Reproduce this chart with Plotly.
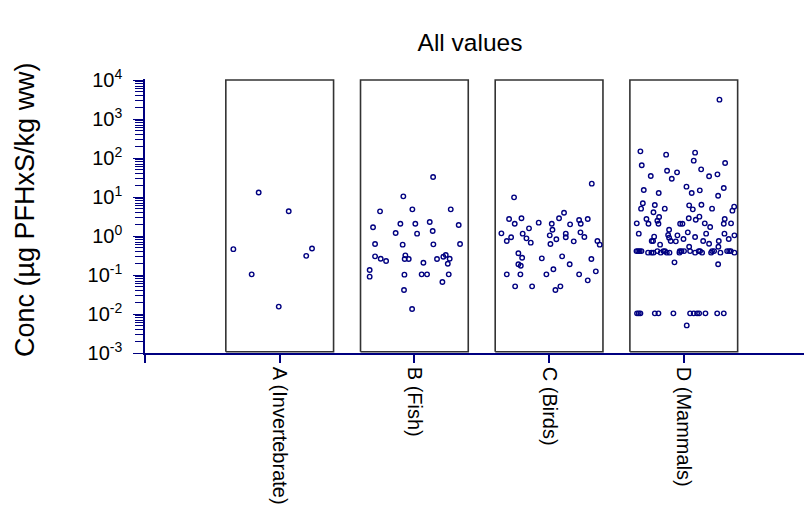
import plotly.graph_objects as go

# ---------------- data ----------------
categories = ["A (Invertebrate)", "B (Fish)", "C (Birds)", "D (Mammals)"]

y_tick_vals = [1e-3, 1e-2, 1e-1, 1e0, 1e1, 1e2, 1e3, 1e4]
y_tick_text = ["10<sup>-3</sup>", "10<sup>-2</sup>", "10<sup>-1</sup>", "10<sup>0</sup>",
               "10<sup>1</sup>", "10<sup>2</sup>", "10<sup>3</sup>", "10<sup>4</sup>"]

a_values = [13.0, 4.3, 0.46, 0.48, 0.31, 0.104, 0.0155]
a_jitter = [-0.156, 0.067, -0.344, 0.24, 0.197, -0.208, -0.007]

b_values = [32.6, 10.4, 4.29, 4.83, 4.83, 1.67, 2.07, 2.07, 2.29, 1.91,
            1.19, 1.15, 1.34, 0.624, 0.60, 0.611, 0.624, 0.301, 0.262, 0.229,
            0.319, 0.257, 0.257, 0.207, 0.257, 0.295, 0.326, 0.262, 0.195, 0.134,
            0.0906, 0.102, 0.104, 0.104, 0.104, 0.0662, 0.0412, 0.0134]
b_jitter = [0.139, -0.082, -0.255, -0.015, 0.27, -0.307, -0.104, 0.007, 0.114, 0.329,
            -0.139, 0.02, 0.136, -0.292, -0.087, 0.141, 0.339, -0.292, -0.25, -0.21,
            -0.067, -0.072, -0.042, 0.067, 0.168, 0.215, 0.233, 0.262, 0.248, -0.332,
            -0.332, -0.074, 0.054, 0.094, 0.255, 0.208, -0.077, -0.017]

c_values = [22.0, 9.79, 3.96, 2.73, 2.84, 2.07, 2.20, 2.07, 2.84, 2.57,
            2.07, 2.73, 1.99, 1.57, 1.45, 1.17, 1.15, 1.04, 1.15, 0.925,
            1.24, 0.942, 0.925, 0.745, 0.871, 0.675, 0.822, 0.624, 0.73, 0.745,
            0.60, 0.36, 0.278, 0.267, 0.301, 0.257, 0.188, 0.173, 0.188, 0.14,
            0.124, 0.104, 0.104, 0.104, 0.104, 0.073, 0.0512, 0.0512, 0.0412, 0.0512]
c_jitter = [0.317, -0.26, 0.111, -0.297, -0.205, -0.255, -0.077, 0.02, 0.074, 0.223,
            0.235, 0.287, 0.156, -0.149, 0.025, -0.354, -0.196, 0.005, 0.124, 0.124,
            0.233, 0.262, -0.282, -0.314, -0.168, -0.136, 0.054, 0.01, 0.183, 0.359,
            0.376, -0.228, -0.2, -0.054, 0.097, 0.314, -0.228, -0.21, 0.153, 0.032,
            0.347, -0.314, -0.213, -0.02, 0.223, 0.287, -0.252, -0.126, 0.047, 0.084]

d_values = [3130, 148, 137, 122, 85.5, 64.9, 74.5, 47.3, 42.9, 51.2,
            29.5, 34.5, 33.9, 38.1, 18.4, 17.0, 15.1, 12.7, 12.7, 14.8,
            10.8, 6.89, 6.24, 6.11, 6.35, 5.02, 5.02, 4.83, 5.02, 4.47,
            5.65, 4.05, 2.73, 3.07, 2.47, 2.84, 3.13, 2.62, 2.73, 2.11,
            2.07, 2.07, 2.07, 2.07, 2.11, 2.07, 2.11, 1.70, 1.45, 1.15,
            1.06, 1.04, 1.24, 1.15, 1.15, 1.04, 0.962, 0.906, 0.838, 0.942,
            0.745, 0.745, 0.745, 0.73, 0.745, 0.745, 0.838, 0.60, 0.635, 0.532,
            0.532,
            0.41, 0.41, 0.41, 0.41, 0.41, 0.41, 0.41, 0.41, 0.41, 0.41,
            0.41, 0.41, 0.41, 0.41, 0.41, 0.41, 0.41, 0.41,
            0.374, 0.374, 0.374, 0.374, 0.374, 0.374, 0.374, 0.374, 0.374, 0.374,
            0.374, 0.374,
            0.211, 0.188,
            0.0104, 0.0104, 0.0104, 0.0104, 0.0104, 0.0104, 0.0104, 0.0104, 0.0104, 0.0104,
            0.0104, 0.0104, 0.0104,
            0.0051]
d_jitter = [0.265, -0.322, 0.084, -0.131, 0.074, -0.312, 0.307, -0.124, -0.05, 0.129,
            -0.089, -0.245, 0.188, 0.25, 0.02, 0.297, -0.297, -0.186, 0.059, 0.119,
            0.255, -0.304, -0.215, 0.04, 0.131, -0.317, -0.141, 0.067, 0.21, 0.361,
            0.374, -0.225, -0.277, -0.183, -0.196, 0.037, 0.116, 0.089, 0.304, -0.349,
            -0.262, -0.188, -0.027, -0.01, 0.156, 0.297, 0.351, 0.196, -0.109, -0.334,
            -0.116, -0.047, 0.03, 0.166, 0.302, 0.376, -0.22, -0.109, -0.002, 0.084,
            -0.238, -0.228, -0.097, -0.059, 0.144, 0.26, 0.334, -0.176, 0.188, 0.04,
            0.257,
            -0.351, -0.339, -0.327, -0.314, -0.196, -0.151, -0.139, -0.03, -0.017, 0.002,
            0.047, 0.111, 0.121, 0.21, 0.225, 0.322, 0.337, 0.349,
            -0.265, -0.24, -0.225, -0.171, -0.126, -0.106, -0.032, 0.084, 0.136, 0.203,
            0.272, 0.376,
            -0.069, 0.255,
            -0.347, -0.334, -0.322, -0.215, -0.188, -0.077, 0.047, 0.074, 0.099, 0.114,
            0.161, 0.248, 0.297,
            0.022]

groups = [(a_values, a_jitter), (b_values, b_jitter), (c_values, c_jitter), (d_values, d_jitter)]

box_top = 1e4
box_bottom = 10 ** -2.967
box_half = 0.4

NAVY = "#000080"
BOXC = "#333333"
FONT = "Liberation Sans, Arial, sans-serif"

# the page body has an 8px margin, so the figure is sized/positioned to compensate
W, H = 804, 501

fig = go.Figure()

for i, (vals, jit) in enumerate(groups):
    fig.add_trace(go.Scatter(
        x=[i - box_half, i + box_half, i + box_half, i - box_half, i - box_half],
        y=[box_bottom, box_bottom, box_top, box_top, box_bottom],
        mode="lines", line=dict(color=BOXC, width=1.6),
        hoverinfo="skip", showlegend=False))

for i, (vals, jit) in enumerate(groups):
    fig.add_trace(go.Scatter(
        x=[i + j for j in jit], y=vals, mode="markers",
        marker=dict(symbol="circle-open", size=4.5, color=NAVY, line=dict(width=1.4, color=NAVY)),
        cliponaxis=False, showlegend=False))

fig.update_layout(
    width=W, height=H,
    margin=dict(l=137, r=0, t=71, b=156),
    paper_bgcolor="white", plot_bgcolor="white",
    font=dict(family=FONT, color="black"),
    title=dict(text="All values", x=462 / W, xref="container", xanchor="center",
               y=1 - 34 / H, yref="container", yanchor="middle",
               font=dict(size=24.5, family=FONT, color="black")),
    showlegend=False,
)

fig.update_xaxes(
    range=[-1, 3.952],
    tickmode="array", tickvals=[-1, 0, 1, 2, 3], ticktext=[""] + categories,
    tickangle=90, ticks="outside", ticklen=8, tickwidth=1.5, tickcolor=NAVY,
    showline=True, linecolor=NAVY, linewidth=1.5,
    showgrid=False, zeroline=False,
    tickfont=dict(size=20, family=FONT, color="black"),
)

fig.update_yaxes(
    type="log", range=[-3, 4.0256],
    tickmode="array", tickvals=y_tick_vals, ticktext=y_tick_text,
    ticks="outside", ticklen=10, tickwidth=1, tickcolor=NAVY,
    ticklabelstandoff=7,
    minor=dict(ticks="outside", ticklen=8, tickwidth=1, tickcolor=NAVY, dtick="D1", showgrid=False),
    showline=True, linecolor=NAVY, linewidth=1.5,
    showgrid=False, zeroline=False,
    tickfont=dict(size=20, family=FONT, color="black"),
)

fig.add_annotation(
    text="Conc (µg PFHxS/kg ww)", textangle=-90,
    xref="paper", yref="paper",
    x=(25 - 145) / 667, y=(353 - 210) / 274,
    xanchor="center", yanchor="middle", showarrow=False,
    font=dict(size=27, family=FONT, color="black"),
)

fig.write_html("out.html")
